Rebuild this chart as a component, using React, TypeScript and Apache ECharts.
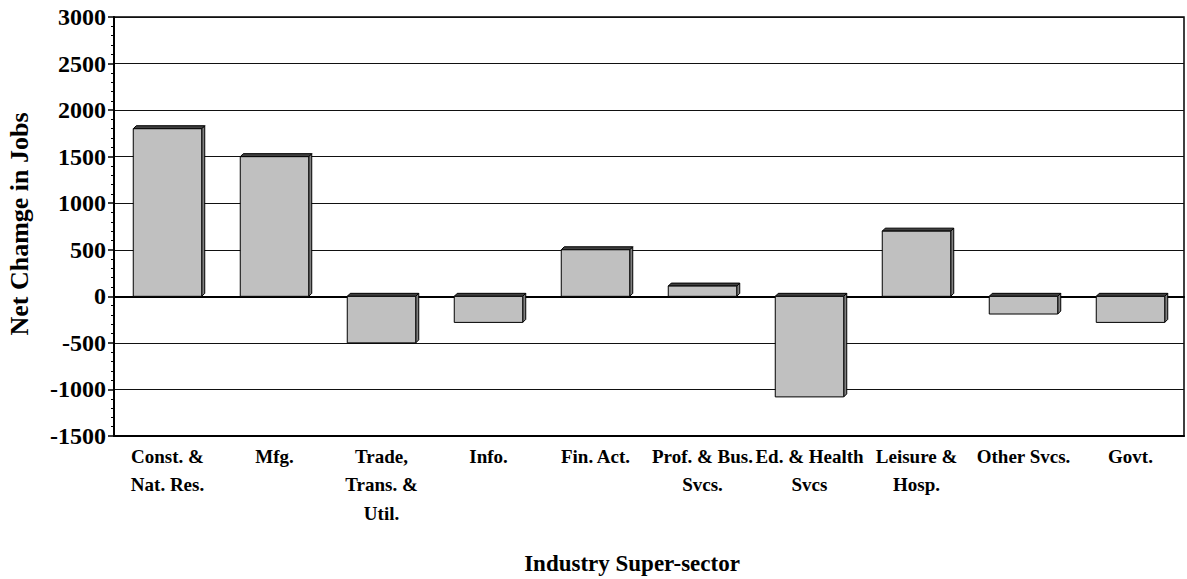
import React, { useEffect, useRef } from "react";
import * as echarts from "echarts";

const categories = [
  "Const. &\nNat. Res.",
  "Mfg.",
  "Trade,\nTrans. &\nUtil.",
  "Info.",
  "Fin. Act.",
  "Prof. & Bus.\nSvcs.",
  "Ed. & Health\nSvcs",
  "Leisure &\nHosp.",
  "Other Svcs.",
  "Govt.",
];
const netChange = [1800, 1500, -500, -280, 500, 110, -1080, 700, -190, -280];
const yMin = -1500;
const yMax = 3000;
const yStep = 500;
const yTitle = "Net Chamge in Jobs";
const xTitle = "Industry Super-sector";

const FONT = "Liberation Serif";

export default function App() {
  const ref = useRef<HTMLDivElement>(null);
  useEffect(() => {
    if (!ref.current) return;
    const chart = echarts.init(ref.current, null, { renderer: "svg" });
    chart.setOption({
      animation: false,
      backgroundColor: "#fff",
      textStyle: { fontFamily: FONT },
      grid: {
        left: 114,
        right: 3,
        top: 17,
        bottom: 143,
        show: true,
        borderColor: "#000",
        borderWidth: 1.5,
      },
      xAxis: [
        {
          type: "category",
          data: categories,
          position: "bottom",
          axisLine: { onZero: false, lineStyle: { color: "#000", width: 2 } },
          axisTick: { show: false },
          splitLine: { show: false },
          axisLabel: {
            interval: 0,
            color: "#000",
            fontFamily: FONT,
            fontWeight: "bold",
            fontSize: 19,
            lineHeight: 28.5,
            margin: 6,
          },
        },
        {
          type: "category",
          data: categories,
          position: "bottom",
          axisLine: { onZero: true, lineStyle: { color: "#000", width: 2 } },
          axisTick: { show: false },
          axisLabel: { show: false },
          splitLine: { show: false },
        },
      ],
      yAxis: {
        type: "value",
        min: yMin,
        max: yMax,
        interval: yStep,
        axisLine: { show: true, lineStyle: { color: "#000", width: 2 } },
        axisTick: { show: true, length: 6, lineStyle: { color: "#000", width: 1.5 } },
        minorTick: { show: true, splitNumber: 5, length: 3, lineStyle: { color: "#000", width: 1 } },
        splitLine: { show: true, lineStyle: { color: "#111", width: 1.2 } },
        axisLabel: {
          color: "#000",
          fontFamily: FONT,
          fontWeight: "bold",
          fontSize: 24,
          margin: 8,
          formatter: (v: number) => String(v),
        },
      },
      graphic: [
        {
          type: "text",
          x: 19,
          y: 224,
          rotation: Math.PI / 2,
          style: {
            text: yTitle,
            fontFamily: FONT,
            fontWeight: "bold",
            fontSize: 26,
            fill: "#000",
            textAlign: "center",
            textVerticalAlign: "middle",
          },
        },
        {
          type: "text",
          x: 632,
          y: 563,
          style: {
            text: xTitle,
            fontFamily: FONT,
            fontWeight: "bold",
            fontSize: 23,
            fill: "#000",
            textAlign: "center",
            textVerticalAlign: "middle",
          },
        },
      ],
      series: [
        {
          type: "custom",
          xAxisIndex: 0,
          yAxisIndex: 0,
          data: netChange.map((v, i) => [i, v]),
          encode: { x: 0, y: 1 },
          renderItem: (params: any, api: any) => {
            const idx = api.value(0);
            const v = api.value(1);
            const p0 = api.coord([idx, 0]);
            const p1 = api.coord([idx, v]);
            const band = api.size([1, 0])[0];
            const w = band * 0.64;
            const x0 = p0[0] - w / 2;
            const x1 = x0 + w;
            const yTop = Math.min(p0[1], p1[1]);
            const yBot = Math.max(p0[1], p1[1]);
            const d = 3;
            return {
              type: "group",
              children: [
                {
                  type: "polygon",
                  shape: { points: [[x1, yTop], [x1 + d, yTop - d], [x1 + d, yBot - d], [x1, yBot]] },
                  style: { fill: "#808080", stroke: "#000", lineWidth: 1 },
                },
                {
                  type: "polygon",
                  shape: { points: [[x0, yTop], [x0 + d, yTop - d], [x1 + d, yTop - d], [x1, yTop]] },
                  style: { fill: "#404040", stroke: "#000", lineWidth: 1 },
                },
                {
                  type: "rect",
                  shape: { x: x0, y: yTop, width: w, height: yBot - yTop },
                  style: { fill: "#c0c0c0", stroke: "#000", lineWidth: 1 },
                },
              ],
            };
          },
        },
      ],
    });
    return () => chart.dispose();
  }, []);
  return (
    <div
      ref={ref}
      style={{ position: "fixed", left: 0, top: 0, width: 1187, height: 579 }}
    />
  );
}
